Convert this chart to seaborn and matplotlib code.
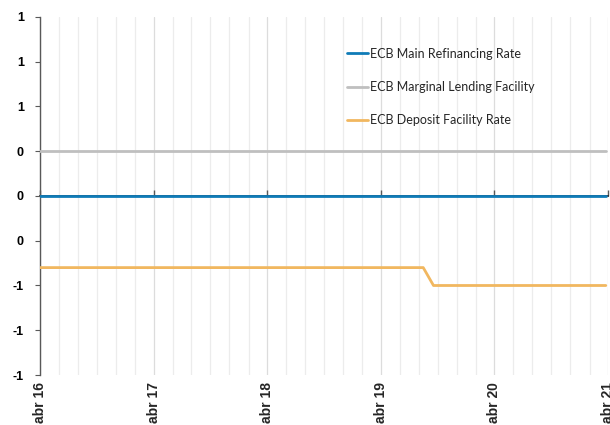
import matplotlib
matplotlib.use("Agg")
import matplotlib.pyplot as plt
import matplotlib.dates as mdates
import seaborn as sns
import pandas as pd
import numpy as np

sns.set_theme(style="white")
plt.rcParams['font.family'] = ['Lato', 'DejaVu Sans']

# Data (step series, change points)
refi_dates = ["2016-04-01", "2021-03-25"]
refi_vals = [0.0, 0.0]
mlf_dates = ["2016-04-01", "2021-03-25"]
mlf_vals = [0.25, 0.25]
dfr_dates = ["2016-04-01", "2019-08-16", "2019-09-18", "2021-03-25"]
dfr_vals = [-0.4, -0.4, -0.5, -0.5]
series_names = ["ECB Main Refinancing Rate", "ECB Marginal Lending Facility", "ECB Deposit Facility Rate"]
colors = ["#0f7bb7", "#bfbfbf", "#f1b75f"]
year_ticks = ["2016-04-01", "2017-04-01", "2018-04-01", "2019-04-01", "2020-04-01", "2021-04-01"]
year_labels = ["abr 16", "abr 17", "abr 18", "abr 19", "abr 20", "abr 21"]
y_ticks = [-1.0, -0.75, -0.5, -0.25, 0.0, 0.25, 0.5, 0.75, 1.0]

TICK_FONT = ['Liberation Sans', 'DejaVu Sans']


def excel_round(v):
    r = int(np.floor(abs(v) + 0.5))
    return str(-r if v < 0 and r != 0 else r)


frames = []
for name, d, v in zip(series_names, [refi_dates, mlf_dates, dfr_dates], [refi_vals, mlf_vals, dfr_vals]):
    frames.append(pd.DataFrame({"date": pd.to_datetime(d), "value": v, "series": name}))
df = pd.concat(frames, ignore_index=True)

fig = plt.figure(figsize=(6.1, 4.25), dpi=100)
ax = fig.add_axes([40/610, 1-375/425, 568/610, 358/425])

# vertical gridlines every 2 months
grid_dates = pd.date_range("2016-04-01", "2021-04-01", freq="2MS")
for gd in grid_dates:
    c = "#dcdcdc" if gd.month == 4 else "#ececec"
    ax.axvline(gd, color=c, lw=0.9, zorder=0)

sns.lineplot(data=df, x="date", y="value", hue="series", hue_order=series_names,
             palette=colors, linewidth=2.0, ax=ax, zorder=3, estimator=None, sort=False)

ax.set_xlim(pd.Timestamp(year_ticks[0]), pd.Timestamp(year_ticks[-1]))
ax.set_ylim(-1, 1)
ax.set_xlabel("")
ax.set_ylabel("")

ax.set_yticks(y_ticks, labels=[excel_round(v) for v in y_ticks],
              fontweight="bold", fontsize=9, family=TICK_FONT)
ax.tick_params(axis="y", which="major", left=True, length=3.6, width=0.8, color="#595959",
               pad=8, labelcolor="black")

xt = [mdates.date2num(pd.Timestamp(t)) for t in year_ticks]
ax.set_xticks(xt, labels=year_labels, rotation=90, fontweight="bold", fontsize=10, family=TICK_FONT)
ax.tick_params(axis="x", length=0, pad=5)

for s in ["top", "right", "bottom"]:
    ax.spines[s].set_visible(False)
ax.spines["left"].set_color("#595959")
ax.spines["left"].set_linewidth(1.0)

# horizontal axis at zero with year ticks
sec = ax.secondary_xaxis(0.5)
sec.set_xticks(xt)
sec.set_xticklabels([])
sec.tick_params(axis="x", direction="out", length=4, width=1.0, color="#595959")
sec.spines["bottom"].set_color("#595959")

leg = ax.legend(loc="upper left", bbox_to_anchor=(0.532, 0.928), frameon=False,
                fontsize=9, handlelength=1.7, handletextpad=0.15, labelspacing=1.7,
                borderaxespad=0)
for line in leg.get_lines():
    line.set_linewidth(2.0)

fig.savefig("out.png", dpi=100)
